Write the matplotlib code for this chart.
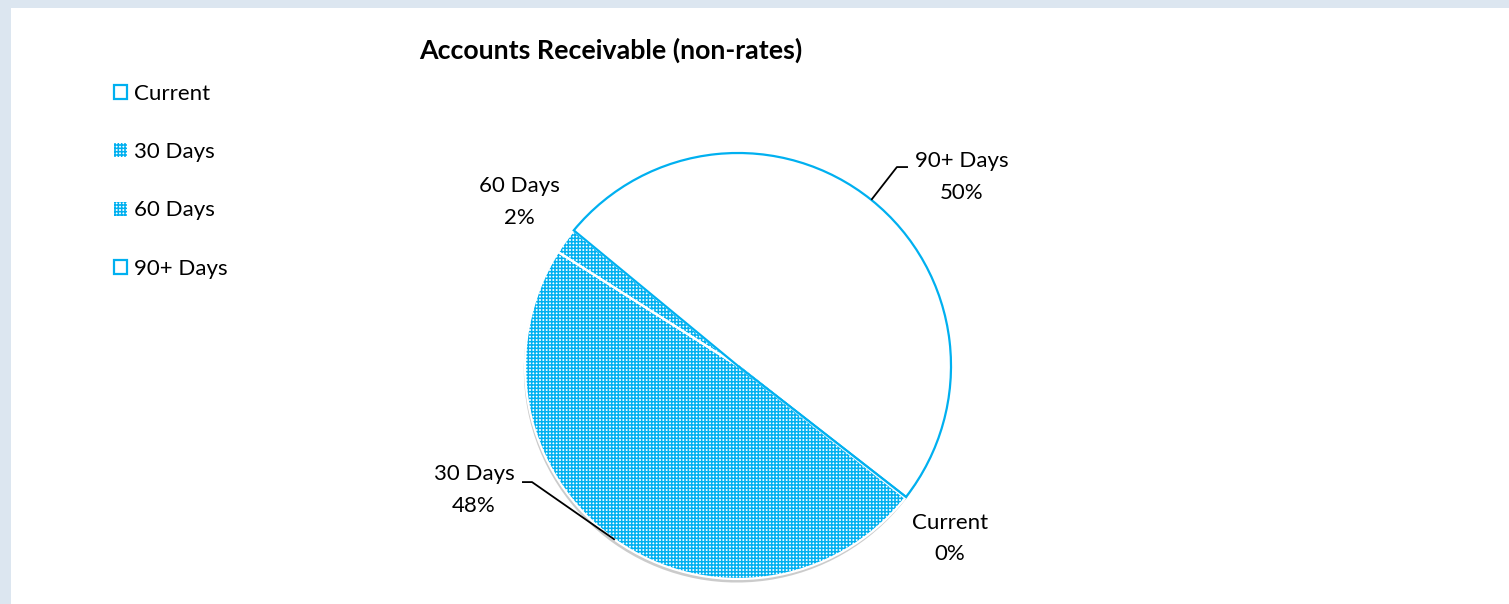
import numpy as np
import matplotlib
matplotlib.use("Agg")
import matplotlib.pyplot as plt
from matplotlib.patches import Patch, Rectangle

# ---- data ----
categories = ["Current", "30 Days", "60 Days", "90+ Days"]
values = [0.1, 48.4, 2.0, 49.6]
pct_labels = ["0%", "48%", "2%", "50%"]
title = "Accounts Receivable (non-rates)"

# ---- style ----
BLUE = "#00b0f0"
FONT = "Lato"
FS = 16
HATCH = "+++++"
hatched = [False, True, True, False]

plt.rcParams["font.family"] = [FONT, "DejaVu Sans"]
plt.rcParams["hatch.linewidth"] = 1.1

fig = plt.figure(figsize=(15.09, 6.04), dpi=100)
fig.patch.set_facecolor("#dce6f0")
fig.patches.append(Rectangle((11 / 1509, 0), 1 - 11 / 1509, 1 - 8 / 604,
                             transform=fig.transFigure, facecolor="white",
                             edgecolor="none", zorder=-5))

cx, cy, r = 738, 366, 213
ax = fig.add_axes([(cx - r) / 1509, (604 - cy - r) / 604, 2 * r / 1509, 2 * r / 604])
ax.set_facecolor("none")
ax.set_zorder(2)

start = -38.3 + 360 * values[0] / sum(values)

# layer 1: fills (hatch colour = edgecolor)
w1, _ = ax.pie(values, startangle=start, counterclock=False, radius=1,
               colors=["white"] * len(values),
               shadow={"ox": -0.004, "oy": -0.012, "shade": 0.4, "alpha": 0.5},
               wedgeprops=dict(linewidth=0))
for w, h in zip(w1, hatched):
    if h:
        w.set_hatch(HATCH)
        w.set_edgecolor(BLUE)
    else:
        w.set_edgecolor("white")

# layer 2: outlines
w2, _ = ax.pie(values, startangle=start, counterclock=False, radius=1,
               wedgeprops=dict(facecolor="none", linewidth=1.6))
for w, h in zip(w2, hatched):
    w.set_edgecolor("white" if h else BLUE)

ax.set_xlim(-1, 1)
ax.set_ylim(-1, 1)
ax.set_aspect("equal")
ax.axis("off")

# ---- data labels (layout positions in radius units) ----
label_pos = {"Current": (0.995, -0.808), "30 Days": (-1.239, -0.582),
             "60 Days": (-1.028, 0.770), "90+ Days": (1.052, 0.887)}
leaders = {"30 Days": [(-0.967, -0.545), (-1.014, -0.545)],
           "90+ Days": [(0.746, 0.934), (0.798, 0.934)]}
for w, cat, pl in zip(w1, categories, pct_labels):
    x, y = label_pos[cat]
    ax.text(x, y, f"{cat}\n{pl}", ha="center", va="center", fontsize=FS,
            linespacing=1.7, clip_on=False)
    if cat in leaders:
        mid = np.deg2rad((w.theta1 + w.theta2) / 2)
        pts = [(np.cos(mid), np.sin(mid))] + leaders[cat]
        xs, ys = zip(*pts)
        ax.plot(xs, ys, color="black", lw=1.3, clip_on=False,
                solid_capstyle="butt")

fig.text(611 / 1509, 1 - 50 / 604, title, ha="center", va="center",
         fontsize=19.3, fontweight="bold")

# ---- legend ----
handles = []
for h in hatched:
    if h:
        handles.append(Patch(facecolor="white", edgecolor=BLUE, hatch=HATCH, linewidth=0))
    else:
        handles.append(Patch(facecolor="white", edgecolor=BLUE, linewidth=1.6))
fig.legend(handles, categories, loc="upper left",
           bbox_to_anchor=(114 / 1509, 1 - 84 / 604), frameon=False,
           fontsize=FS, handlelength=0.6, handleheight=0.6, handletextpad=0.3,
           labelspacing=1.72, borderaxespad=0, borderpad=0)

fig.savefig("out.png", dpi=100, facecolor=fig.get_facecolor())
